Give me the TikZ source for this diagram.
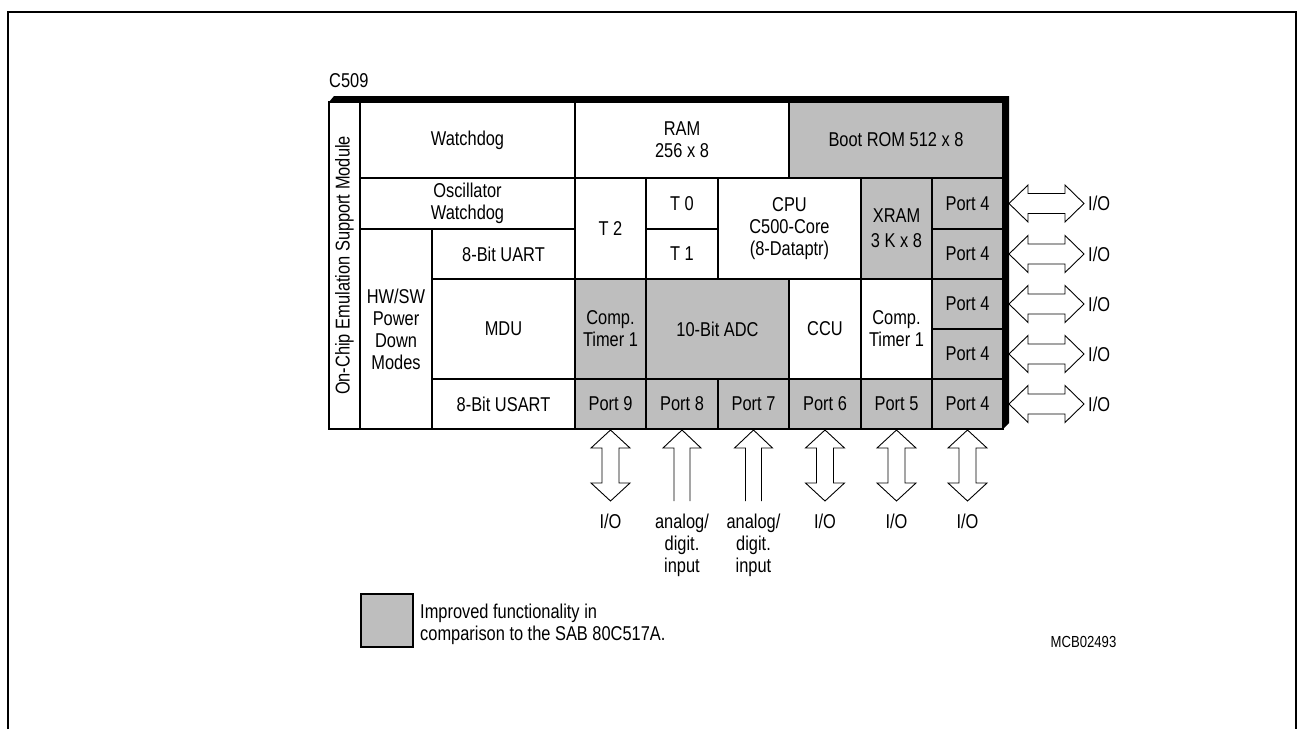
\documentclass[tikz,border=0pt]{standalone}
\usepackage{fontspec}
\setmainfont{Liberation Sans}[FakeStretch=0.82]
\usetikzlibrary{calc}
\definecolor{chipgray}{RGB}{190,190,190}
\newcommand\blk[7]{\node[cellbox, fill=#6, minimum width={#4-#2}, minimum height={#5-#3}] (#1) at ({(#2+#4)/2},{(#3+#5)/2}) {#7};}
\begin{document}
\begin{tikzpicture}[x=1pt,y=-1pt,font=\fontsize{20}{22}\selectfont,
  cellbox/.style={inner sep=0pt, outer sep=0pt, align=center},
  gridline/.style={line width=1.3pt},
  blockarrow/.style={draw, fill=white, line width=0.9pt, line join=miter},
  lbl/.style={inner sep=0pt, align=center},
  hio/.pic={\draw[blockarrow] (0,0)--(19,-18.5)--(19,-10)--(56,-10)--(56,-18.5)--(75,0)--(56,18.5)--(56,10)--(19,10)--(19,18.5)--cycle;},
  vio/.pic={\draw[blockarrow] (0,0)--(19.5,18)--(8.5,18)--(8.5,53)--(19.5,53)--(0,71)--(-19.5,53)--(-8.5,53)--(-8.5,18)--(-19.5,18)--cycle;},
  vin/.pic={\draw[blockarrow] (-8,71)--(-8,18)--(-19,18)--(0,0)--(19,18)--(8,18)--(8,71);}
]
\useasboundingbox (0,0) rectangle (1298,729);
% outer frame
\draw[line width=2pt] (8,729)--(8,12)--(1296,12)--(1296,729);

% title
\node[anchor=base west, inner sep=0pt] (title) at (329,87) {C509};

% cells
\blk{emu}{329}{102}{360}{429}{white}{}
\blk{wdog}{360}{102}{575}{178}{white}{Watchdog}
\blk{ram}{575}{102}{789}{178}{white}{RAM\\256 x 8}
\blk{boot}{789}{102}{1003}{178}{chipgray}{Boot ROM 512 x 8}
\blk{osc}{360}{178}{575}{229}{white}{Oscillator\\Watchdog}
\blk{t2}{575}{178}{646}{279}{white}{T 2}
\blk{t0}{646}{178}{718}{229}{white}{T 0}
\blk{t1}{646}{229}{718}{279}{white}{T 1}
\blk{cpu}{718}{178}{861}{279}{white}{CPU\\C500-Core\\(8-Dataptr)}
\blk{xram}{861}{178}{932}{279}{chipgray}{XRAM\\[3pt]3 K x 8}
\blk{p4a}{932}{178}{1003}{229}{chipgray}{Port 4}
\blk{p4b}{932}{229}{1003}{279}{chipgray}{Port 4}
\blk{hwsw}{360}{229}{432}{429}{white}{HW/SW\\Power\\Down\\Modes}
\blk{uart}{432}{229}{575}{279}{white}{8-Bit UART}
\blk{mdu}{432}{279}{575}{379}{white}{MDU}
\blk{usart}{432}{379}{575}{429}{white}{8-Bit USART}
\blk{ctA}{575}{279}{646}{379}{chipgray}{Comp.\\Timer 1}
\blk{adc}{646}{279}{789}{379}{chipgray}{10-Bit ADC}
\blk{ccu}{789}{279}{861}{379}{white}{CCU}
\blk{ctB}{861}{279}{932}{379}{white}{Comp.\\Timer 1}
\blk{p4c}{932}{279}{1003}{329}{chipgray}{Port 4}
\blk{p4d}{932}{329}{1003}{379}{chipgray}{Port 4}
\blk{p9}{575}{379}{646}{429}{chipgray}{Port 9}
\blk{p8}{646}{379}{718}{429}{chipgray}{Port 8}
\blk{p7}{718}{379}{789}{429}{chipgray}{Port 7}
\blk{p6}{789}{379}{861}{429}{chipgray}{Port 6}
\blk{p5}{861}{379}{932}{429}{chipgray}{Port 5}
\blk{p4e}{932}{379}{1003}{429}{chipgray}{Port 4}

\node[rotate=90, inner sep=0pt] (emutext) at (emu.center) {On-Chip Emulation Support Module};

% grid lines
\foreach \n in {emu,wdog,ram,boot,osc,t2,t0,t1,cpu,xram,p4a,p4b,hwsw,uart,mdu,usart,ctA,adc,ccu,ctB,p4c,p4d,p9,p8,p7,p6,p5,p4e}
  \draw[gridline] (\n.north west) rectangle (\n.south east);

% 3D edge of chip
\fill (emu.north west) -- ++(5,-6) -- ($(boot.north east)+(6,-6)$) -- ($(p4e.south east)+(6,-6)$) -- (p4e.south east) -- (boot.north east) -- cycle;

% right I/O arrows
\foreach \n in {p4a,p4b,p4c,p4d,p4e}{
  \pic at ([xshift=6pt]\n.east) {hio};
  \node[anchor=west, inner sep=0pt] (io-\n) at ([xshift=85pt]\n.east) {I/O};
}

% bottom arrows
\foreach \n in {p9,p6,p5,p4e}{
  \pic at ([yshift=-1pt]\n.south) {vio};
  \node[lbl, anchor=north] (bio-\n) at ([yshift=-84.5pt]\n.south) {I/O};
}
\foreach \n in {p8,p7}{
  \pic at ([yshift=-1pt]\n.south) {vin};
  \node[lbl, anchor=north] (bin-\n) at ([yshift=-84.5pt]\n.south) {analog/\\digit.\\input};
}

% legend
\node[draw, fill=chipgray, line width=1.2pt, minimum width=52, minimum height=53, inner sep=0pt] (legbox) at (387,620.5) {};
\node[anchor=west, align=left, inner sep=0pt] (legtext) at (420,624) {Improved functionality in\\comparison to the SAB 80C517A.};
\node[anchor=base, inner sep=0pt, font=\fontsize{16}{18}\selectfont] (mcb) at (1083.5,647) {MCB02493};
\end{tikzpicture}
\end{document}
